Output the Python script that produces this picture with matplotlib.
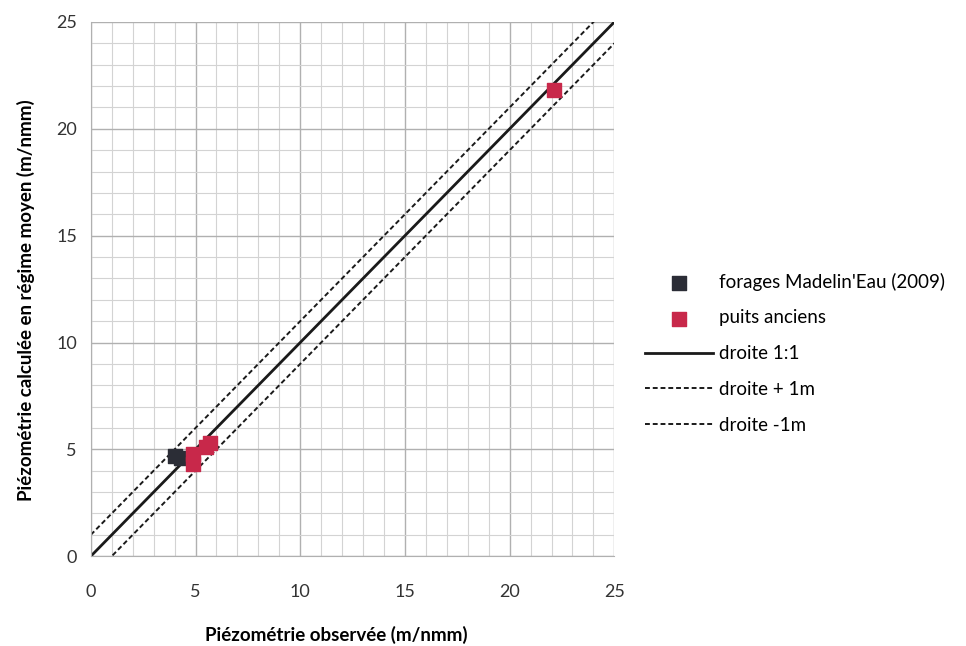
import matplotlib.pyplot as plt
import numpy as np
from matplotlib.ticker import MultipleLocator

# valeurs
forages_obs = [4.0, 4.3]
forages_calc = [4.7, 4.6]
puits_obs = [4.9, 4.9, 5.5, 5.7, 22.1]
puits_calc = [4.8, 4.3, 5.1, 5.3, 21.8]
droite_x = [0, 25]
decalage = 1

plt.rcParams['font.family'] = ['Lato', 'DejaVu Sans']

fig = plt.figure(figsize=(9.66, 6.46), dpi=100)
ax = fig.add_axes([0.094, 0.139, 0.542, 0.827])

ax.plot(droite_x, droite_x, color='#1a1a1a', lw=2, label='droite 1:1', zorder=2)
ax.plot(droite_x, [v + decalage for v in droite_x], color='#1a1a1a', lw=1.4,
        ls=(0, (2.5, 1.5)), label='droite + 1m', zorder=2)
ax.plot(droite_x, [v - decalage for v in droite_x], color='#1a1a1a', lw=1.4,
        ls=(0, (2.5, 1.5)), label='droite -1m', zorder=2)

ax.scatter(forages_obs, forages_calc, marker='s', s=110, color='#2b2d36',
           label="forages Madelin'Eau (2009)", zorder=3)
ax.scatter(puits_obs, puits_calc, marker='s', s=110, color='#c8284a',
           label='puits anciens', zorder=3)

ax.set_xlim(0, 25)
ax.set_ylim(0, 25)
ax.xaxis.set_major_locator(MultipleLocator(5))
ax.yaxis.set_major_locator(MultipleLocator(5))
ax.xaxis.set_minor_locator(MultipleLocator(1))
ax.yaxis.set_minor_locator(MultipleLocator(1))
ax.grid(which='major', color='#b0b0b0', lw=1.0)
ax.grid(which='minor', color='#d3d3d3', lw=0.8)
ax.set_axisbelow(True)
ax.tick_params(which='both', length=0, labelsize=13, colors='#333333')
ax.tick_params(axis='x', pad=20)
ax.tick_params(axis='y', pad=10)
for s in ax.spines.values():
    s.set_visible(False)
ax.spines['left'].set_visible(True)
ax.spines['left'].set_color('#b0b0b0')
ax.spines['bottom'].set_visible(True)
ax.spines['bottom'].set_color('#b0b0b0')

ax.set_xlabel('Piézométrie observée (m/nmm)', fontsize=13.5, fontweight='bold', labelpad=19)
ax.set_ylabel('Piézométrie calculée en régime moyen (m/nmm)', fontsize=13.5,
              fontweight='bold', labelpad=15)
# titres un peu décalés comme sur l'original
ax.xaxis.label.set_x(0.469)
ax.yaxis.label.set_y(0.479)

h, l = ax.get_legend_handles_labels()
ordre = [3, 4, 0, 1, 2]
ax.legend([h[i] for i in ordre], [l[i] for i in ordre], loc='center left',
          bbox_to_anchor=(1.027, 0.38), frameon=False, fontsize=13.5,
          handlelength=3.6, handletextpad=0.3, labelspacing=1.0, markerscale=1.0)

fig.savefig('out.png', dpi=100)
